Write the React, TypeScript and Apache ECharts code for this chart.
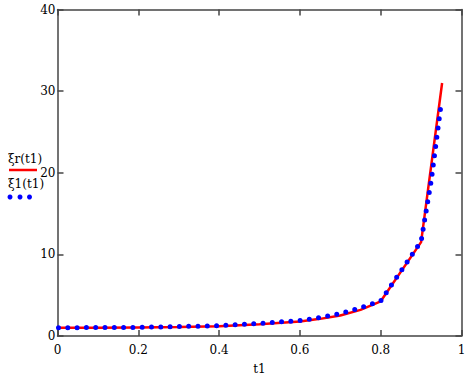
import React, { useEffect, useRef } from "react";
import * as echarts from "echarts";

// ξr(t1): red solid trace
const redT = [0, 0.1, 0.2, 0.3, 0.4, 0.5, 0.6, 0.65, 0.7, 0.75, 0.8, 0.9, 0.952];
const redV = [1.0, 1.02, 1.05, 1.09, 1.2, 1.45, 1.79, 2.1, 2.52, 3.2, 4.25, 11.5, 31.0];

// ξ1(t1): blue dotted trace
const blueT = [0, 0.1, 0.2, 0.3, 0.4, 0.5, 0.6, 0.65, 0.7, 0.75, 0.8, 0.9, 0.925, 0.9485];
const blueV = [1.02, 1.03, 1.06, 1.15, 1.27, 1.53, 1.9, 2.25, 2.75, 3.45, 4.3, 11.6, 19.0, 28.0];

const xTicks = { min: 0, max: 1, interval: 0.2 };
const yTicks = { min: 0, max: 40, interval: 10 };

const legendNames = ["ξr(t1)", "ξ1(t1)"];

const SERIF = "DejaVu Serif";
const AXIS_COLOR = "#444";

export default function App() {
  const ref = useRef<HTMLDivElement>(null);
  useEffect(() => {
    if (!ref.current) return;
    const chart = echarts.init(ref.current, undefined, { renderer: "svg" });
    const axisLine = { show: true, onZero: false, lineStyle: { color: AXIS_COLOR, width: 1.5 } };
    const axisTick = { show: true, inside: true, length: 6, lineStyle: { color: AXIS_COLOR, width: 1.5 } };
    const label = { fontFamily: SERIF, fontSize: 12, color: "#000" };
    chart.setOption({
      animation: false,
      textStyle: { fontFamily: SERIF },
      grid: { left: 57.5, right: 10.5, top: 9.5, bottom: 42, containLabel: false },
      xAxis: [
        {
          type: "value",
          position: "bottom",
          ...xTicks,
          axisLine,
          axisTick,
          axisLabel: { ...label, margin: 8 },
          splitLine: { show: false },
          name: "t1",
          nameLocation: "middle",
          nameGap: 27,
          nameTextStyle: { ...label },
        },
        {
          type: "value",
          position: "top",
          ...xTicks,
          axisLine,
          axisTick,
          axisLabel: { show: false },
          splitLine: { show: false },
        },
      ],
      yAxis: [
        {
          type: "value",
          position: "left",
          ...yTicks,
          axisLine,
          axisTick,
          axisLabel: { ...label, margin: 2 },
          splitLine: { show: false },
        },
        {
          type: "value",
          position: "right",
          ...yTicks,
          axisLine,
          axisTick,
          axisLabel: { show: false },
          splitLine: { show: false },
        },
      ],
      series: [
        {
          name: legendNames[0],
          type: "line",
          xAxisIndex: 0,
          yAxisIndex: 0,
          data: redT.map((t, i) => [t, redV[i]]),
          showSymbol: false,
          symbol: "none",
          lineStyle: { color: "#ff0000", width: 2.5 },
          z: 2,
        },
        {
          name: legendNames[1],
          type: "line",
          xAxisIndex: 0,
          yAxisIndex: 0,
          data: blueT.map((t, i) => [t, blueV[i]]),
          showSymbol: false,
          symbol: "none",
          lineStyle: { color: "#0000ff", width: 5, type: [0, 9.3], cap: "round", dashOffset: -1 },
          z: 3,
        },
      ],
      graphic: [
        {
          type: "text",
          left: 8,
          top: 153,
          style: { text: legendNames[0], fontFamily: SERIF, fontSize: 12, fill: "#000" },
        },
        {
          type: "line",
          shape: { x1: 9, y1: 170, x2: 37, y2: 170 },
          style: { stroke: "#ff0000", lineWidth: 2.5 },
        },
        {
          type: "text",
          left: 8,
          top: 178,
          style: { text: legendNames[1], fontFamily: SERIF, fontSize: 12, fill: "#000" },
        },
        { type: "circle", shape: { cx: 10, cy: 197, r: 2.5 }, style: { fill: "#0000ff" } },
        { type: "circle", shape: { cx: 20, cy: 197, r: 2.5 }, style: { fill: "#0000ff" } },
        { type: "circle", shape: { cx: 29.5, cy: 197, r: 2.5 }, style: { fill: "#0000ff" } },
      ],
    });
    return () => chart.dispose();
  }, []);
  return (
    <div
      ref={ref}
      style={{ position: "fixed", left: 0, top: 0, width: 472, height: 380, background: "#fff" }}
    />
  );
}
